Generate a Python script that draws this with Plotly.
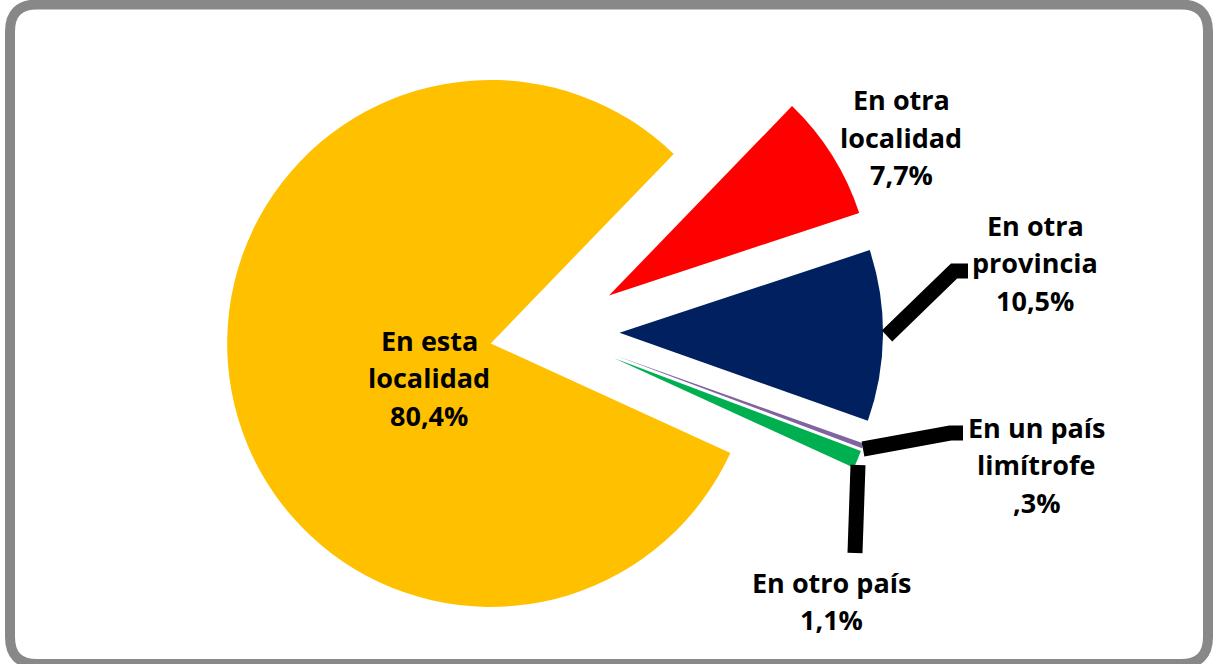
import plotly.graph_objects as go

# slices in clockwise order, starting from the top-right one
labels = ["En otra localidad", "En otra provincia", "En un país limítrofe",
          "En otro país", "En esta localidad"]
label_lines = [["En otra", "localidad"], ["En otra", "provincia"],
               ["En un país", "limítrofe"], ["En otro país"],
               ["En esta", "localidad"]]
values = [7.7, 10.5, 0.3, 1.1, 80.4]
colors = ["#FF0000", "#002060", "#8064A2", "#00B050", "#FFC000"]
pulls = [0.26, 0.26, 0.26, 0.26, 0.233]

W, H = 1216, 664


def px(x):
    return x / W


def py(y):
    return 1 - y / H


def fmt(v):
    s = f"{v:.1f}".replace(".", ",")
    if s.startswith("0"):
        s = s[1:]
    return s + "%"


fig = go.Figure(go.Pie(
    labels=labels,
    values=values,
    sort=False,
    direction="clockwise",
    rotation=44,
    pull=pulls,
    marker=dict(colors=colors, line=dict(width=0)),
    textinfo="none",
    hoverinfo="label+percent",
    domain=dict(x=[0, 2 * 551 / W], y=[0, 1]),
))

# label block centre (x) and first line centre (y), in pixels
label_pos = [(901, 100), (1035, 225), (1036, 427), (831, 582), (429, 340)]
line_gap = 37.5

annotations = []
for lines, v, (lx, ly) in zip(label_lines, values, label_pos):
    for i, t in enumerate(lines + [fmt(v)]):
        annotations.append(dict(
            x=px(lx), y=py(ly + i * line_gap), xref="paper", yref="paper",
            text="<b>" + t + "</b>", showarrow=False,
            xanchor="center", yanchor="middle",
            font=dict(family="Open Sans", size=27, color="black"),
        ))


def path(points):
    return "M " + " L ".join(f"{px(x)},{py(y)}" for x, y in points)


shapes = []
# rounded grey frame
x0, x1, y0, y1, r = 10, 1208, 4.5, 664, 27
frame = (f"M {px(x0 + r)},{py(y0)} L {px(x1 - r)},{py(y0)} "
         f"Q {px(x1)},{py(y0)} {px(x1)},{py(y0 + r)} L {px(x1)},{py(y1 - r)} "
         f"Q {px(x1)},{py(y1)} {px(x1 - r)},{py(y1)} L {px(x0 + r)},{py(y1)} "
         f"Q {px(x0)},{py(y1)} {px(x0)},{py(y1 - r)} L {px(x0)},{py(y0 + r)} "
         f"Q {px(x0)},{py(y0)} {px(x0 + r)},{py(y0)} Z")
shapes.append(dict(type="path", xref="paper", yref="paper", path=frame,
                   line=dict(color="#888888", width=10), layer="below"))

# thick leader lines
leaders = [
    [(887, 336), (954, 271), (968, 271)],
    [(863, 449), (950, 433), (963, 433)],
    [(858, 465), (855, 553)],
]
for pts in leaders:
    shapes.append(dict(type="path", xref="paper", yref="paper", path=path(pts),
                       line=dict(color="black", width=15), layer="above"))

fig.update_layout(
    width=W, height=H,
    margin=dict(l=0, r=0, t=0, b=0),
    paper_bgcolor="white",
    plot_bgcolor="white",
    showlegend=False,
    annotations=annotations,
    shapes=shapes,
)

# drop the browser's default body margin so the figure fills the window
fig.write_html("out.html", config={"displayModeBar": False},
               post_script="document.body.style.margin = '0';")
